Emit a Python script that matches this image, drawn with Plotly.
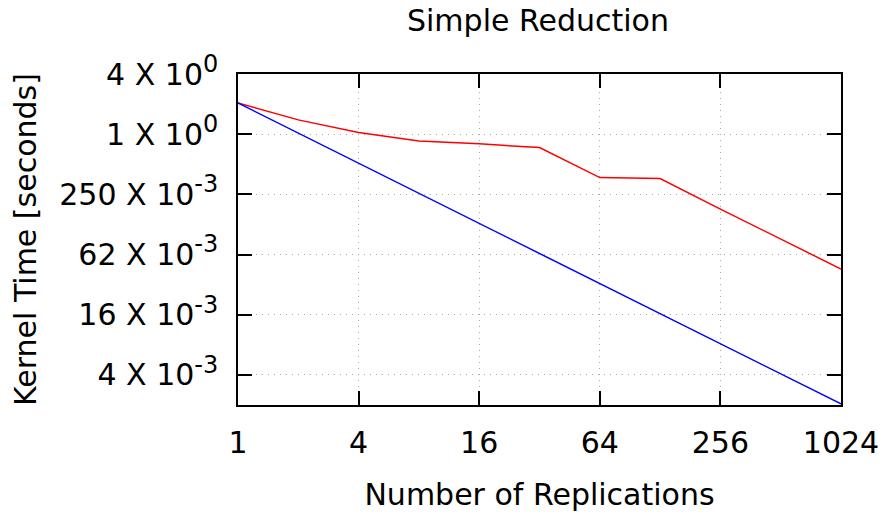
import plotly.graph_objects as go
import math

# Number of replications (powers of two)
replications = [1, 2, 4, 8, 16, 32, 64, 128, 256, 512, 1024]

# Measured kernel time [s]
measured_time = [2.05, 1.39, 1.04, 0.857, 0.80, 0.735, 0.368, 0.36, 0.178, 0.0896, 0.0448]

# Ideal linear scaling [s]
ideal_time = [2.05, 1.025, 0.5125, 0.25625, 0.128125, 0.0640625, 0.03203125,
              0.016015625, 0.0080078125, 0.00400390625, 0.002001953125]

x_tickvals = [1, 4, 16, 64, 256, 1024]
x_ticktext = ["1", "4", "16", "64", "256", "1024"]

y_tickvals = [4, 1, 0.25, 0.0625, 0.015625, 0.00390625]
y_mantissa = ["4", "1", "250", "62", "16", "4"]
y_exponent = ["0", "0", "-3", "-3", "-3", "-3"]

FONT = "DejaVu Sans"
FS = 30

# Larger exponents than the default 70% superscript
y_ticktext = [f"{m} X 10<sup><span style='font-size:24px'>{e}</span></sup>"
              for m, e in zip(y_mantissa, y_exponent)]

fig = go.Figure()
fig.add_trace(go.Scatter(x=replications, y=measured_time, mode="lines",
                         line=dict(color="#ff0000", width=1.5), showlegend=False))
fig.add_trace(go.Scatter(x=replications, y=ideal_time, mode="lines",
                         line=dict(color="#0000ff", width=1.5), showlegend=False))

fig.update_layout(
    width=887, height=516,
    margin=dict(l=238, r=46, t=74, b=111, autoexpand=False),
    paper_bgcolor="white", plot_bgcolor="white",
    font=dict(family=FONT, size=FS, color="black"),
    title=dict(text="Simple Reduction", x=0.6065, xanchor="center",
               y=0.96, yanchor="middle", font=dict(family=FONT, size=FS)),
)

fig.update_xaxes(
    type="log", range=[0, math.log10(1024)], automargin=False,
    tickvals=x_tickvals, ticktext=x_ticktext,
    ticks="inside", ticklen=14, tickwidth=1.5, tickcolor="black",
    showline=True, linecolor="black", linewidth=1.5, mirror="ticks",
    showgrid=True, gridcolor="#a8a8a8", griddash="1px,5px", gridwidth=1,
    zeroline=False, ticklabelstandoff=10,
    title=dict(text="Number of Replications", standoff=25,
               font=dict(family=FONT, size=FS)),
)

fig.update_yaxes(
    type="log", range=[math.log10(2 ** -9), math.log10(4)], automargin=False,
    tickvals=y_tickvals, ticktext=y_ticktext,
    ticks="inside", ticklen=14, tickwidth=1.5, tickcolor="black",
    showline=True, linecolor="black", linewidth=1.5, mirror="ticks",
    showgrid=True, gridcolor="#a8a8a8", griddash="1px,5px", gridwidth=1,
    zeroline=False, ticklabelstandoff=12,
    title=dict(text="Kernel Time [seconds]", standoff=14,
               font=dict(family=FONT, size=FS)),
)

fig.write_html("out.html")
